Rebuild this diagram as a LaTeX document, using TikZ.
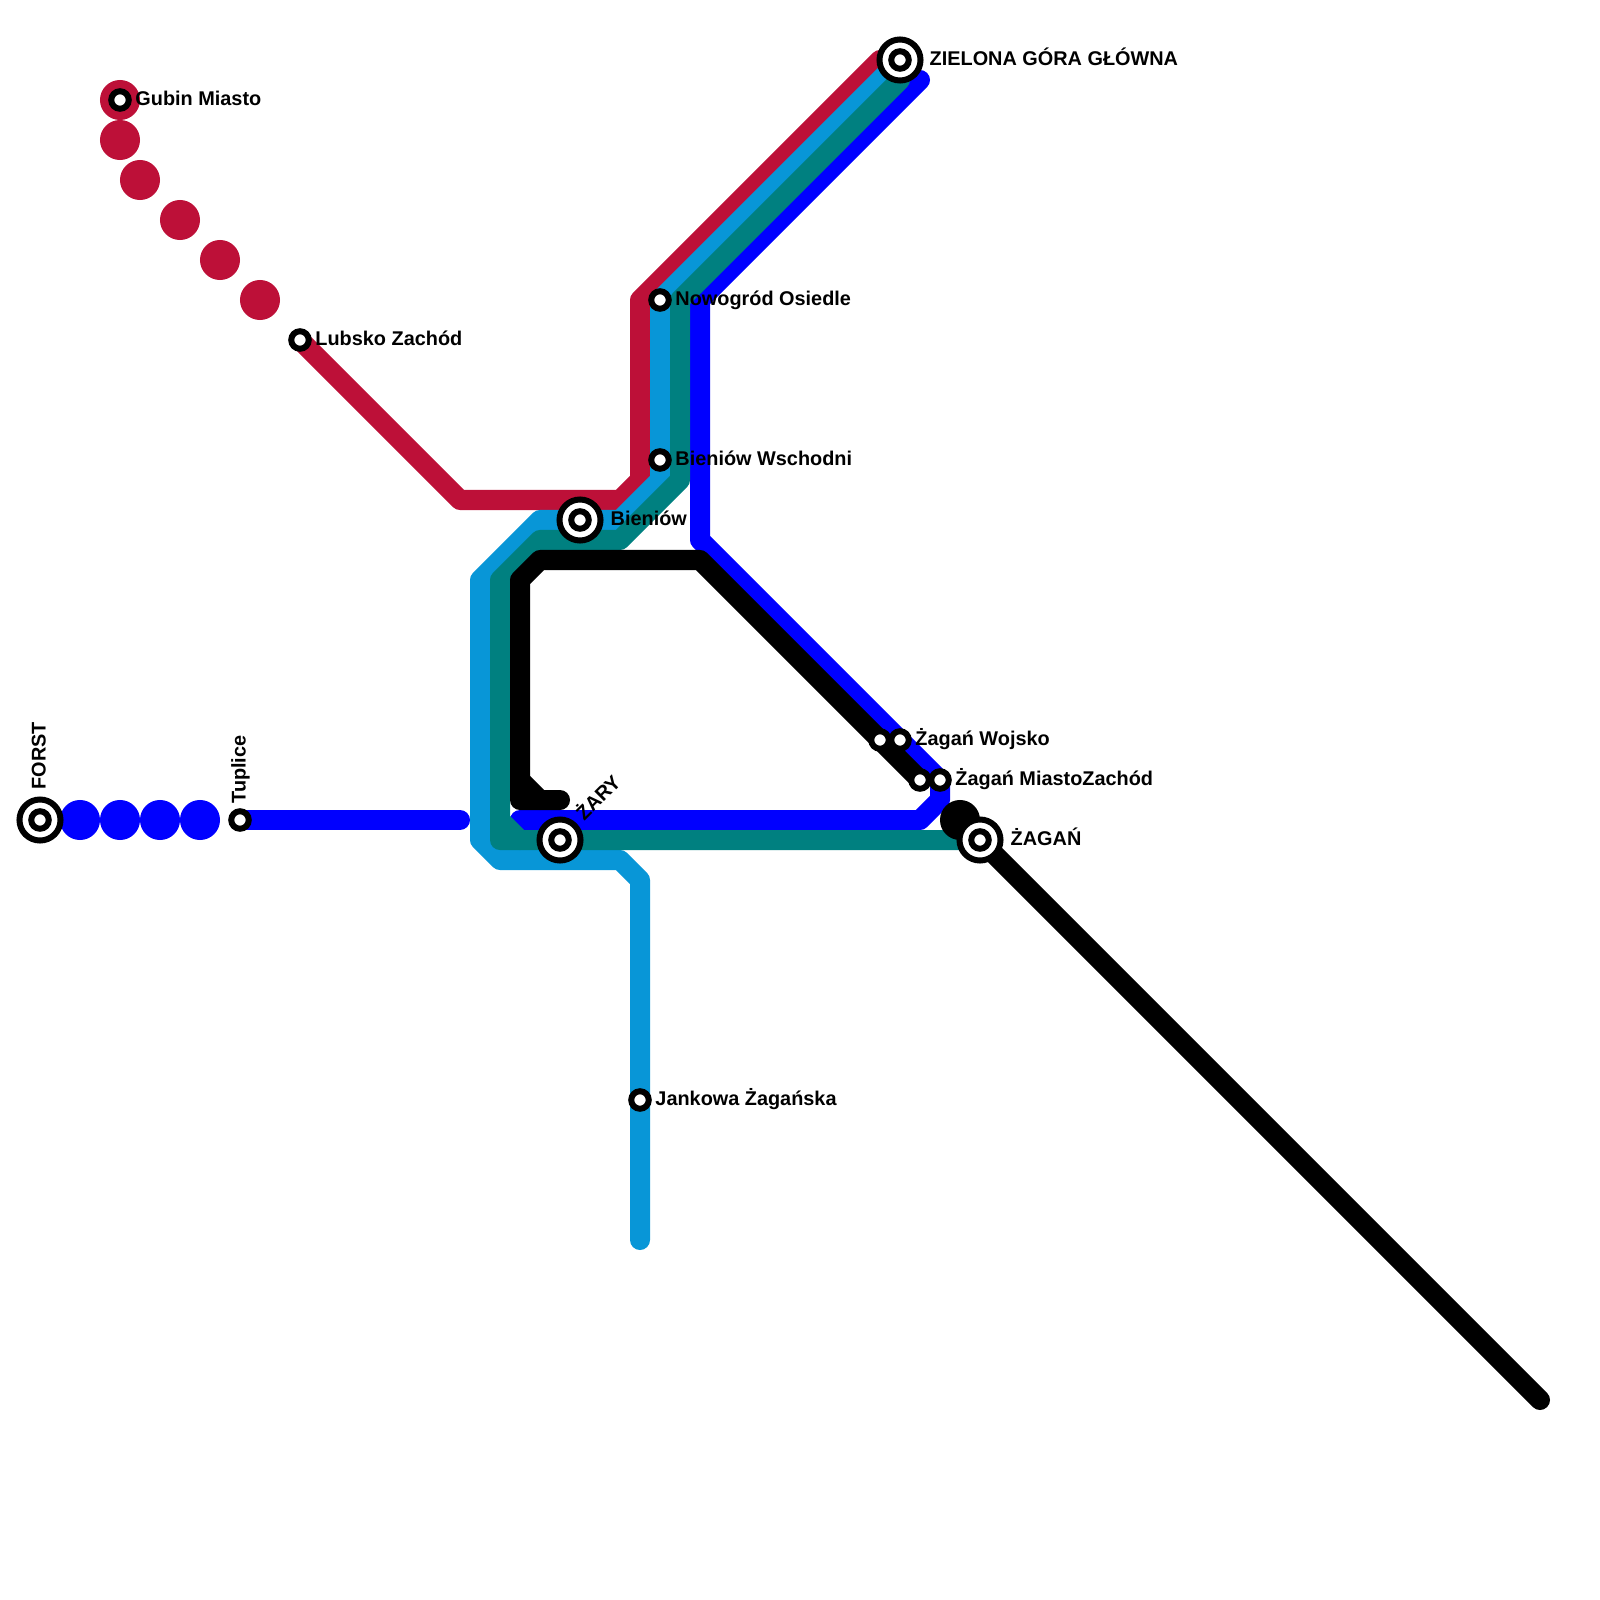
\documentclass[tikz,border=0pt]{standalone}
\usepackage{fontspec}
\setmainfont{Liberation Sans}
\usepackage{xcolor}
\usetikzlibrary{backgrounds, positioning}
\definecolor{crimsonline}{HTML}{BD1038}
\definecolor{skyline}{HTML}{0896D7}
\definecolor{tealline}{HTML}{008080}
\definecolor{blueline}{HTML}{0000FF}
\begin{document}
\begin{tikzpicture}[x=0.01cm, y=-0.01cm,
    font=\fontsize{5.65pt}{7pt}\selectfont\bfseries,
    route/.style={line width=2mm, line cap=round, line join=round},
    station/.style={circle, draw=black, fill=white, line width=0.6mm, inner sep=0pt, minimum size=1.75mm},
    hub/.style={circle, draw=black, fill=white, line width=0.6mm, inner sep=0pt, minimum size=4.1mm},
    gap/.style={circle, inner sep=0pt, minimum size=4mm},
    stlabel/.style={inner sep=0pt, text height=1.4mm, text depth=0.3mm}]
  \useasboundingbox (0,0) rectangle (1600,1600);

  % Gaps in the lines
  \node[gap, fill=crimsonline] (g1) at (120,100) {};
  \node[gap, fill=crimsonline] (g2) at (120,140) {};
  \node[gap, fill=crimsonline] (g3) at (140,180) {};
  \node[gap, fill=crimsonline] (g4) at (180,220) {};
  \node[gap, fill=crimsonline] (g5) at (220,260) {};
  \node[gap, fill=crimsonline] (g6) at (260,300) {};
  \node[gap, fill=blueline] (b1) at (80,820) {};
  \node[gap, fill=blueline] (b2) at (120,820) {};
  \node[gap, fill=blueline] (b3) at (160,820) {};
  \node[gap, fill=blueline] (b4) at (200,820) {};
  \node[gap, fill=black] (k1) at (960,820) {};

  % Stations
  \node[station] (gubin) at (120,100) {};
  \node[station] (lubsko) at (300,340) {};
  \node[station] (tuplice) at (240,820) {};
  \node[station] (nowogrod) at (660,300) {};
  \node[station] (bieniowe) at (660,460) {};
  \node[station] (jankowa) at (640,1100) {};
  \node[station] (wojskoa) at (880,740) {};
  \node[station] (wojsko) at (900,740) {};
  \node[station] (miastoa) at (920,780) {};
  \node[station] (miasto) at (940,780) {};
  \node[hub] (forst) at (40,820) {};
  \node[station] (forstc) at (40,820) {};
  \node[hub] (zielona) at (900,60) {};
  \node[station] (zielonac) at (900,60) {};
  \node[hub] (bieniow) at (580,520) {};
  \node[station] (bieniowc) at (580,520) {};
  \node[hub] (zary) at (560,840) {};
  \node[station] (zaryc) at (560,840) {};
  \node[hub] (zagan) at (980,840) {};
  \node[station] (zaganc) at (980,840) {};

  % Free ends of the lines
  \coordinate (crimsonend) at (880,60);
  \coordinate (skyend) at (640,1240);
  \coordinate (tealend) at (900,80);
  \coordinate (blueend) at (460,820);
  \coordinate (bluestart) at (520,820);
  \coordinate (blueend2) at (920,80);
  \coordinate (blackstub) at (560,800);
  \coordinate (blackend) at (1540,1400);

  \begin{scope}[on background layer]
    % Lines
    \draw[route, crimsonline] (lubsko.center) -- (460,500) -- (620,500) -- (640,480) -- (640,300) -- (crimsonend);
    \draw[route, skyline] (skyend) -- (jankowa.center) -- (640,880) -- (620,860) -- (500,860) -- (480,840) -- (480,580)
      -- (540,520) -- (620,520) -- (660,480) -- (bieniowe.center) -- (nowogrod.center) -- (zielona.center);
    \draw[route, blueline] (tuplice.center) -- (blueend);
    \draw[route, blueline] (bluestart) -- (920,820) -- (940,800) -- (miasto.center) -- (700,540) -- (700,300) -- (blueend2);
    \draw[route, tealline] (zagan.center) -- (500,840) -- (500,580) -- (540,540) -- (620,540) -- (680,480) -- (680,300) -- (tealend);
    \draw[route, tealline] (500,820) -- (520,840);
    \draw[route, black] (blackstub) -- (520,800) -- (520,580) -- (540,560) -- (700,560) -- (miastoa.center);
    \draw[route, black] (520,780) -- (540,800);
    \draw[route, black] (zagan.center) -- (blackend);
  \end{scope}

  % Labels
  \node[stlabel, right=0.3mm of gubin] (gubinlabel) {Gubin Miasto};
  \node[stlabel, right=0.3mm of lubsko] (lubskolabel) {Lubsko Zachód};
  \node[stlabel, right=0.3mm of nowogrod] (nowogrodlabel) {Nowogród Osiedle};
  \node[stlabel, right=0.3mm of bieniowe] (bieniowelabel) {Bieniów Wschodni};
  \node[stlabel, right=0.3mm of jankowa] (jankowalabel) {Jankowa Żagańska};
  \node[stlabel, right=0.3mm of wojsko] (wojskolabel) {Żagań Wojsko};
  \node[stlabel, right=0.3mm of miasto] (miastolabel) {Żagań MiastoZachód};
  \node[stlabel, right=0.55mm of zielona] (zielonalabel) {ZIELONA GÓRA GŁÓWNA};
  \node[stlabel, right=0.65mm of bieniow] (bieniowlabel) {Bieniów};
  \node[stlabel, right=0.65mm of zagan] (zaganlabel) {ŻAGAŃ};
  \node[stlabel, rotate=90, anchor=west, xshift=0.65mm] (forstlabel) at (forst.north) {FORST};
  \node[stlabel, rotate=90, anchor=west, xshift=0.4mm] (tuplicelabel) at (tuplice.north) {Tuplice};
  \node[stlabel, rotate=45, anchor=west] (zarylabel) at (580,818) {ŻARY};
\end{tikzpicture}
\end{document}
